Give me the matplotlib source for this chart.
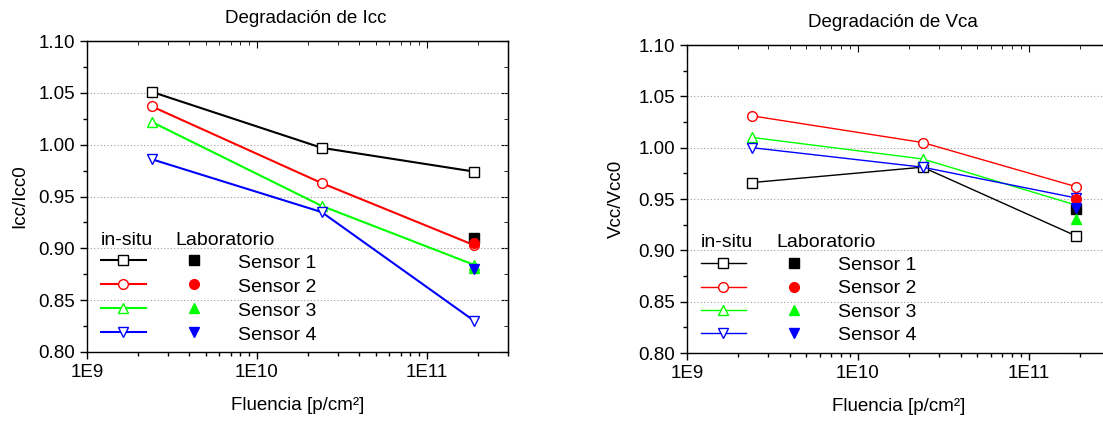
import math

import matplotlib

matplotlib.use("Agg")
import matplotlib.pyplot as plt
from matplotlib.ticker import FuncFormatter, LogLocator, MultipleLocator, NullFormatter

plt.rcParams["font.family"] = ["Liberation Sans", "DejaVu Sans"]

# fluencia de cada medida in-situ y de la medida de laboratorio
FLUENCE = [2.4e9, 2.4e10, 1.9e11]
LAB_FLUENCE = 1.9e11

SENSORS = ["Sensor 1", "Sensor 2", "Sensor 3", "Sensor 4"]
COLORS = ["black", "#ff0000", "#00ff00", "#0000ff"]
MARKERS = ["s", "o", "^", "v"]

# Icc / Icc0
ICC_INSITU = [
    [1.051, 0.997, 0.974],
    [1.037, 0.963, 0.903],
    [1.022, 0.941, 0.884],
    [0.986, 0.935, 0.830],
]
ICC_LAB = [0.910, 0.905, 0.881, 0.880]

# Vcc / Vcc0
VCA_INSITU = [
    [0.966, 0.981, 0.914],
    [1.031, 1.005, 0.962],
    [1.010, 0.989, 0.944],
    [1.000, 0.981, 0.951],
]
VCA_LAB = [0.940, 0.950, 0.931, 0.941]

FS = 13.5


def draw_key(ax, lw, head_y, row_y, text_y, step):
    tr = ax.transAxes
    ax.text(0.033, head_y, "in-situ", transform=tr, fontsize=14, va="baseline")
    ax.text(0.211, head_y, "Laboratorio", transform=tr, fontsize=14, va="baseline")
    for i, name in enumerate(SENSORS):
        y = row_y - i * step
        ax.plot([0.033, 0.140], [y, y], color=COLORS[i], lw=lw, transform=tr, clip_on=False)
        ax.plot(0.086, y, marker=MARKERS[i], ms=7, mfc="white", mec=COLORS[i],
                mew=1.0, transform=tr, clip_on=False)
        ax.plot(0.253, y, marker=MARKERS[i], ms=7, color=COLORS[i], transform=tr, clip_on=False)
        ax.text(0.358, text_y - i * step, name, transform=tr, fontsize=14, va="baseline")


def draw_panel(ax, insitu, lab, title, ylabel, lw, title_x):
    for i in range(len(SENSORS)):
        ax.plot(FLUENCE, insitu[i], color=COLORS[i], lw=lw, marker=MARKERS[i], ms=7,
                mfc="white", mec=COLORS[i], mew=1.0, zorder=3)
        ax.plot(LAB_FLUENCE, lab[i], ls="none", marker=MARKERS[i], ms=7,
                color=COLORS[i], zorder=4)

    ax.set_xscale("log")
    ax.set_xlim(1e9, 3e11)
    ax.set_ylim(0.80, 1.10)
    ax.xaxis.set_major_locator(LogLocator(base=10, numticks=10))
    ax.xaxis.set_minor_locator(LogLocator(base=10, subs=range(2, 10), numticks=20))
    ax.xaxis.set_major_formatter(FuncFormatter(lambda v, p: "1E%d" % round(math.log10(v))))
    ax.xaxis.set_minor_formatter(NullFormatter())
    ax.yaxis.set_major_locator(MultipleLocator(0.05))
    ax.yaxis.set_minor_locator(MultipleLocator(0.025))
    ax.yaxis.set_major_formatter(FuncFormatter(lambda v, p: "%.2f" % v))

    ax.tick_params(which="both", direction="out", labelsize=FS, width=1.0)
    ax.tick_params(which="major", length=5)
    ax.tick_params(which="minor", length=3)
    ax.grid(axis="y", which="major", color="#9a9a9a", lw=0.8, ls=(0, (1, 2)))

    # ticks espejo hacia dentro arriba y a la derecha
    top = ax.secondary_xaxis("top")
    top.xaxis.set_minor_locator(LogLocator(base=10, subs=range(2, 10), numticks=20))
    top.tick_params(which="both", direction="in", labeltop=False)
    top.tick_params(which="major", length=5)
    top.tick_params(which="minor", length=3)
    right = ax.secondary_yaxis("right")
    right.yaxis.set_major_locator(MultipleLocator(0.05))
    right.yaxis.set_minor_locator(MultipleLocator(0.025))
    right.tick_params(which="both", direction="in", labelright=False)
    right.tick_params(which="major", length=5)
    right.tick_params(which="minor", length=3)

    for s in ax.spines.values():
        s.set_linewidth(1.0)

    ax.set_title(title, fontsize=FS, pad=13, x=title_x)
    ax.set_ylabel(ylabel, fontsize=FS)
    ax.set_xlabel("Fluencia [p/cm²]", fontsize=FS)
    ax.xaxis.set_label_coords(0.5, -0.145)


fig = plt.figure(figsize=(11.03, 4.21), dpi=100)

ax1 = fig.add_axes([87 / 1103, 1 - 352 / 421, 421 / 1103, 311 / 421])
draw_panel(ax1, ICC_INSITU, ICC_LAB, "Degradación de Icc", "Icc/Icc0", 1.5, 0.52)
ax1.yaxis.set_label_coords(-0.140, 0.5)
draw_key(ax1, 1.5, head_y=0.344, row_y=0.296, text_y=0.269, step=0.0773)

ax2 = fig.add_axes([687 / 1103, 1 - 353 / 421, 423 / 1103, 308 / 421])
draw_panel(ax2, VCA_INSITU, VCA_LAB, "Degradación de Vca", "Vcc/Vcc0", 1.0, 0.487)
ax2.yaxis.set_label_coords(-0.147, 0.5)
draw_key(ax2, 1.0, head_y=0.345, row_y=0.291, text_y=0.269, step=0.0757)

fig.savefig("out.png", dpi=100)
